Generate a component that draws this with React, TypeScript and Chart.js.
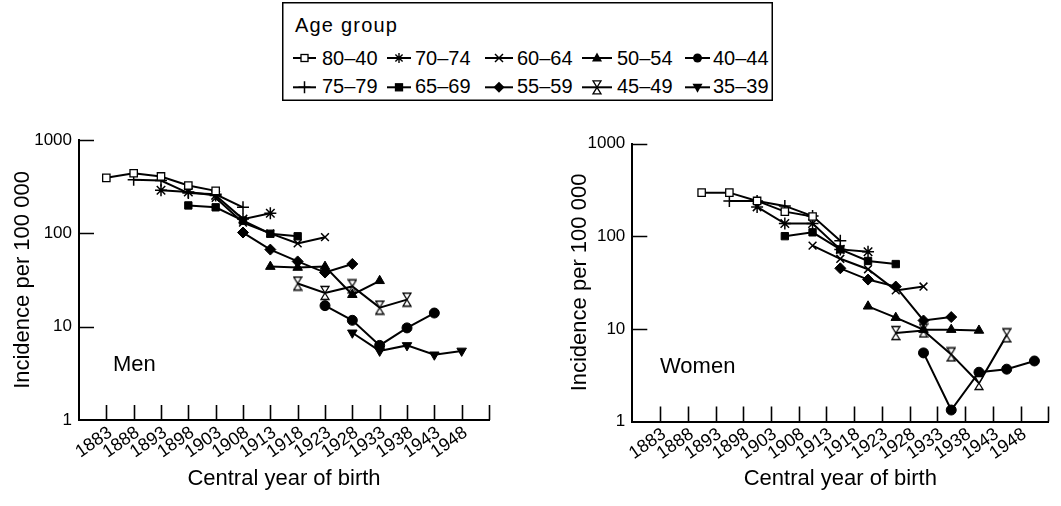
import React, { useEffect, useRef } from 'react';
import { Chart, registerables } from 'chart.js';

Chart.register(...registerables);

const FONT = '"Liberation Sans", Arial, Helvetica, sans-serif';

// ---------- data ----------
const groupLabels = ['80–40', '75–79', '70–74', '65–69', '60–64', '55–59', '50–54', '45–49', '40–44', '35–39'];

const xTickYears = [1878, 1883, 1888, 1893, 1898, 1903, 1908, 1913, 1918, 1923, 1928, 1933, 1938, 1943, 1948, 1953];
const xLabelYears = [1883, 1888, 1893, 1898, 1903, 1908, 1913, 1918, 1923, 1928, 1933, 1938, 1943, 1948];
const yTickValues = [1, 10, 100, 1000];

// Men: central year of birth
const menYears = [1883, 1888, 1893, 1898, 1903, 1908, 1913, 1918, 1923, 1928, 1933, 1938, 1943, 1948];
const men80_84 = [393, 440, 407, 325, 285, null, null, null, null, null, null, null, null, null];
const men75_79 = [null, 374, 368, 270, 262, 190, null, null, null, null, null, null, null, null];
const men70_74 = [null, null, 289, 277, 255, 142, 164, null, null, null, null, null, null, null];
const men65_69 = [null, null, null, 199, 190, 137, 99, 93, null, null, null, null, null, null];
const men60_64 = [null, null, null, null, 240, 130, 100, 78, 91, null, null, null, null, null];
const men55_59 = [null, null, null, null, null, 102, 67, 50, 38, 47, null, null, null, null];
const men50_54 = [null, null, null, null, null, null, 44, 43, 44, 22, 31, null, null, null];
const men45_49 = [null, null, null, null, null, null, null, 29, 23, 27, 16, 19.5, null, null];
const men40_44 = [null, null, null, null, null, null, null, null, 16.8, 11.7, 6.3, 9.7, 14, null];
const men35_39 = [null, null, null, null, null, null, null, null, null, 8.6, 5.5, 6.3, 5.0, 5.5];

// Women: central year of birth (plotted between the ticks)
const womenYears = [1890.5, 1895.5, 1900.5, 1905.5, 1910.5, 1915.5, 1920.5, 1925.5, 1930.5, 1935.5, 1940.5, 1945.5, 1950.5];
const women80_84 = [295, 295, 240, 184, 163, null, null, null, null, null, null, null, null];
const women75_79 = [null, 240, 240, 212, 165, 89, null, null, null, null, null, null, null];
const women70_74 = [null, null, 207, 137, 137, 72, 68, null, null, null, null, null, null];
const women65_69 = [null, null, null, 100, 110, 72, 54, 50, null, null, null, null, null];
const women60_64 = [null, null, null, null, 79, 57, 44, 26, 28.6, null, null, null, null];
const women55_59 = [null, null, null, null, null, 45, 34, 28.6, 12.3, 13.4, null, null, null];
const women50_54 = [null, null, null, null, null, null, 17.5, 13.2, 9.8, 9.8, 9.6, null, null];
const women45_49 = [null, null, null, null, null, null, null, 9.0, 9.6, 5.3, 2.6, 8.5, null];
const women40_44 = [null, null, null, null, null, null, null, null, 5.5, 1.33, 3.4, 3.67, 4.5];

const menSeries = [men80_84, men75_79, men70_74, men65_69, men60_64, men55_59, men50_54, men45_49, men40_44, men35_39];
const womenSeries = [women80_84, women75_79, women70_74, women65_69, women60_64, women55_59, women50_54, women45_49, women40_44, null];

// ---------- marker styles ----------
type MarkerKind = 'openSquare' | 'cross' | 'star' | 'square' | 'crossRot' | 'diamond' | 'triangle' | 'hourglass' | 'circle' | 'triangleDown';
const markerKinds: MarkerKind[] = ['openSquare', 'cross', 'star', 'square', 'crossRot', 'diamond', 'triangle', 'hourglass', 'circle', 'triangleDown'];

function makeHourglass(): HTMLCanvasElement {
  const c = document.createElement('canvas');
  c.width = 10;
  c.height = 16;
  const g = c.getContext('2d')!;
  g.fillStyle = '#fff';
  g.strokeStyle = '#000';
  g.lineWidth = 1.3;
  g.beginPath();
  g.moveTo(1, 1.5); g.lineTo(9, 1.5); g.lineTo(5, 8); g.closePath();
  g.moveTo(5, 8); g.lineTo(9, 14.5); g.lineTo(1, 14.5); g.closePath();
  g.fill();
  g.stroke();
  return c;
}

function pointProps(kind: MarkerKind, hourglass: HTMLCanvasElement) {
  switch (kind) {
    case 'openSquare': return { pointStyle: 'rect', pointRadius: 5.2, pointBackgroundColor: '#fff', pointBorderWidth: 1.3, pointRotation: 0 };
    case 'cross': return { pointStyle: 'cross', pointRadius: 6, pointBackgroundColor: '#000', pointBorderWidth: 1.5, pointRotation: 0 };
    case 'star': return { pointStyle: 'star', pointRadius: 6, pointBackgroundColor: '#000', pointBorderWidth: 1.5, pointRotation: 0 };
    case 'square': return { pointStyle: 'rect', pointRadius: 5.2, pointBackgroundColor: '#000', pointBorderWidth: 1, pointRotation: 0 };
    case 'crossRot': return { pointStyle: 'crossRot', pointRadius: 5.5, pointBackgroundColor: '#000', pointBorderWidth: 1.5, pointRotation: 0 };
    case 'diamond': return { pointStyle: 'rectRot', pointRadius: 5.5, pointBackgroundColor: '#000', pointBorderWidth: 1, pointRotation: 0 };
    case 'triangle': return { pointStyle: 'triangle', pointRadius: 5.5, pointBackgroundColor: '#000', pointBorderWidth: 1, pointRotation: 0 };
    case 'hourglass': return { pointStyle: hourglass, pointRadius: 6, pointBackgroundColor: '#fff', pointBorderWidth: 1, pointRotation: 0 };
    case 'circle': return { pointStyle: 'circle', pointRadius: 5, pointBackgroundColor: '#000', pointBorderWidth: 1, pointRotation: 0 };
    case 'triangleDown': return { pointStyle: 'triangle', pointRadius: 5.5, pointBackgroundColor: '#000', pointBorderWidth: 1, pointRotation: 180 };
  }
}

function buildDatasets(years: number[], series: (Array<number | null> | null)[], hourglass: HTMLCanvasElement) {
  const out: any[] = [];
  series.forEach((vals, gi) => {
    if (!vals) return;
    const data = years
      .map((x, i) => ({ x, y: vals[i] }))
      .filter((p) => p.y !== null && p.y !== undefined);
    out.push({
      label: groupLabels[gi],
      data,
      borderColor: '#000',
      borderWidth: 2,
      pointBorderColor: '#000',
      tension: 0,
      fill: false,
      ...pointProps(markerKinds[gi], hourglass),
    });
  });
  return out;
}

// ---------- plugin: inward ticks, slanted year labels, panel label ----------
const LABEL_ANGLE = (35 * Math.PI) / 180;

const panelPlugin = {
  id: 'panelDecor',
  beforeDatasetsDraw(chart: any) {
    const { ctx, chartArea, scales } = chart;
    ctx.save();
    ctx.strokeStyle = '#000';
    ctx.lineWidth = 1.6;
    ctx.beginPath();
    for (const v of xTickYears) {
      if (v === xTickYears[0]) continue;
      const px = Math.round(scales.x.getPixelForValue(v)) + 0.5;
      ctx.moveTo(px, chartArea.bottom);
      ctx.lineTo(px, chartArea.bottom - 15);
    }
    for (const v of yTickValues) {
      if (v === yTickValues[0]) continue;
      const py = Math.round(scales.y.getPixelForValue(v)) + 0.5;
      ctx.moveTo(chartArea.left, py);
      ctx.lineTo(chartArea.left + 15, py);
    }
    ctx.stroke();
    ctx.restore();
  },
  afterDraw(chart: any, _args: any, opts: any) {
    const { ctx, chartArea, scales } = chart;
    ctx.save();
    ctx.fillStyle = '#000';
    // slanted year labels
    ctx.font = `18px ${FONT}`;
    ctx.textAlign = 'right';
    ctx.textBaseline = 'middle';
    for (const v of xLabelYears) {
      const px = scales.x.getPixelForValue(v);
      ctx.save();
      ctx.translate(px + 4, chartArea.bottom + 11);
      ctx.rotate(-LABEL_ANGLE);
      ctx.fillText(String(v), 0, 0);
      ctx.restore();
    }
    // panel label
    if (opts && opts.text) {
      ctx.font = `22px ${FONT}`;
      ctx.textBaseline = 'alphabetic';
      ctx.textAlign = 'left';
      ctx.fillText(opts.text, opts.x, opts.y);
    }
    ctx.restore();
  },
};

interface PanelLayout {
  padLeft: number; padTop: number; padRight: number; padBottom: number;
  yWidth: number; xHeight: number;
  label: string; labelX: number; labelY: number;
}

function makeConfig(datasets: any[], L: PanelLayout): any {
  return {
    type: 'line',
    data: { datasets },
    plugins: [panelPlugin],
    options: {
      animation: false,
      responsive: false,
      devicePixelRatio: 1,
      layout: { padding: { left: L.padLeft, top: L.padTop, right: L.padRight, bottom: L.padBottom } },
      plugins: {
        legend: { display: false },
        tooltip: { enabled: false },
        panelDecor: { text: L.label, x: L.labelX, y: L.labelY },
      },
      scales: {
        x: {
          type: 'linear',
          min: xTickYears[0],
          max: xTickYears[xTickYears.length - 1],
          afterBuildTicks: (s: any) => { s.ticks = xTickYears.map((value) => ({ value })); },
          afterFit: (s: any) => { s.height = L.xHeight; },
          grid: { display: true, drawOnChartArea: false, drawTicks: false },
          border: { display: true, color: '#000', width: 2 },
          ticks: { display: false },
          title: {
            display: true,
            text: 'Central year of birth',
            color: '#000',
            font: { family: FONT, size: 22 },
            padding: { top: 4, bottom: 4 },
          },
        },
        y: {
          type: 'logarithmic',
          min: yTickValues[0],
          max: yTickValues[yTickValues.length - 1],
          afterBuildTicks: (s: any) => { s.ticks = yTickValues.map((value) => ({ value })); },
          afterFit: (s: any) => { s.width = L.yWidth; },
          grid: { display: true, drawOnChartArea: false, drawTicks: false },
          border: { display: true, color: '#000', width: 2 },
          ticks: {
            padding: 7,
            color: '#000',
            font: { family: FONT, size: 17 },
            callback: (v: any) => String(v),
          },
          title: {
            display: true,
            text: 'Incidence per 100 000',
            color: '#000',
            font: { family: FONT, size: 22 },
            padding: { top: 4, bottom: 4 },
          },
        },
      },
    },
  };
}

// ---------- legend ----------
const legendCols = [
  { x0: 11, x1: 34, tx: 40 },
  { x0: 105, x1: 129, tx: 133 },
  { x0: 203, x1: 231, tx: 235 },
  { x0: 300, x1: 330, tx: 335 },
  { x0: 403, x1: 428, tx: 431 },
];
const legendOrder = [0, 2, 4, 6, 8, 1, 3, 5, 7, 9];

function LegendMarker({ kind, cx, cy }: { kind: MarkerKind; cx: number; cy: number }) {
  const s = { stroke: '#000', strokeWidth: 1.3 };
  switch (kind) {
    case 'openSquare': return <rect x={cx - 3.5} y={cy - 3.5} width={7} height={7} fill="#fff" {...s} />;
    case 'square': return <rect x={cx - 3.5} y={cy - 3.5} width={7} height={7} fill="#000" {...s} />;
    case 'cross': return <path d={`M${cx - 6} ${cy}H${cx + 6}M${cx} ${cy - 6}V${cy + 6}`} {...s} strokeWidth={1.5} fill="none" />;
    case 'crossRot': return <path d={`M${cx - 4} ${cy - 4}L${cx + 4} ${cy + 4}M${cx - 4} ${cy + 4}L${cx + 4} ${cy - 4}`} {...s} strokeWidth={1.5} fill="none" />;
    case 'star': return <path d={`M${cx - 5} ${cy}H${cx + 5}M${cx} ${cy - 5}V${cy + 5}M${cx - 3.6} ${cy - 3.6}L${cx + 3.6} ${cy + 3.6}M${cx - 3.6} ${cy + 3.6}L${cx + 3.6} ${cy - 3.6}`} {...s} strokeWidth={1.4} fill="none" />;
    case 'diamond': return <polygon points={`${cx},${cy - 5.5} ${cx + 5.5},${cy} ${cx},${cy + 5.5} ${cx - 5.5},${cy}`} fill="#000" />;
    case 'triangle': return <polygon points={`${cx},${cy - 5.5} ${cx + 5},${cy + 3.5} ${cx - 5},${cy + 3.5}`} fill="#000" />;
    case 'triangleDown': return <polygon points={`${cx},${cy + 5.5} ${cx + 5},${cy - 3.5} ${cx - 5},${cy - 3.5}`} fill="#000" />;
    case 'circle': return <circle cx={cx} cy={cy} r={4.5} fill="#000" />;
    case 'hourglass': return <path d={`M${cx - 4} ${cy - 6.5}H${cx + 4}L${cx} ${cy}Z M${cx} ${cy}L${cx + 4} ${cy + 6.5}H${cx - 4}Z`} fill="#fff" {...s} />;
  }
}

function Legend() {
  return (
    <svg width={491} height={99} style={{ position: 'absolute', left: 282, top: 2 }}>
      <rect x={0.75} y={0.75} width={489.5} height={97.5} fill="#fff" stroke="#000" strokeWidth={1.5} />
      <text x={13} y={30} fontFamily={FONT} fontSize={20} letterSpacing={1.2} fill="#000">Age group</text>
      {legendOrder.map((gi, k) => {
        const row = k < 5 ? 0 : 1;
        const col = legendCols[k % 5];
        const cy = row === 0 ? 56 : 85.3;
        const base = row === 0 ? 63 : 91.3;
        return (
          <g key={gi}>
            <line x1={col.x0} x2={col.x1} y1={cy} y2={cy} stroke="#000" strokeWidth={2} />
            <LegendMarker kind={markerKinds[gi]} cx={(col.x0 + col.x1) / 2} cy={cy} />
            <text x={col.tx} y={base} fontFamily={FONT} fontSize={20} fill="#000">{groupLabels[gi]}</text>
          </g>
        );
      })}
    </svg>
  );
}

// ---------- app ----------
export default function App() {
  const leftRef = useRef<HTMLCanvasElement>(null);
  const rightRef = useRef<HTMLCanvasElement>(null);

  useEffect(() => {
    const hourglass = makeHourglass();
    const left = new Chart(
      leftRef.current!,
      makeConfig(buildDatasets(menYears, menSeries, hourglass), {
        padLeft: 5.3, padTop: 40, padRight: 51, padBottom: 3.8,
        yWidth: 73.7, xHeight: 76.2,
        label: 'Men', labelX: 113, labelY: 271,
      })
    );
    const right = new Chart(
      rightRef.current!,
      makeConfig(buildDatasets(womenYears, womenSeries, hourglass), {
        padLeft: 22.8, padTop: 43.5, padRight: 12.7, padBottom: 3.8,
        yWidth: 69.5, xHeight: 74.7,
        label: 'Women', labelX: 120, labelY: 273,
      })
    );
    return () => {
      left.destroy();
      right.destroy();
    };
  }, []);

  return (
    <div style={{ position: 'absolute', left: 0, top: 0, width: 1061, height: 506, background: '#fff', overflow: 'hidden' }}>
      <canvas ref={leftRef} width={540} height={400} style={{ position: 'absolute', left: 0, top: 100, width: 540, height: 400 }} />
      <canvas ref={rightRef} width={521} height={400} style={{ position: 'absolute', left: 540, top: 100, width: 521, height: 400 }} />
      <Legend />
    </div>
  );
}
